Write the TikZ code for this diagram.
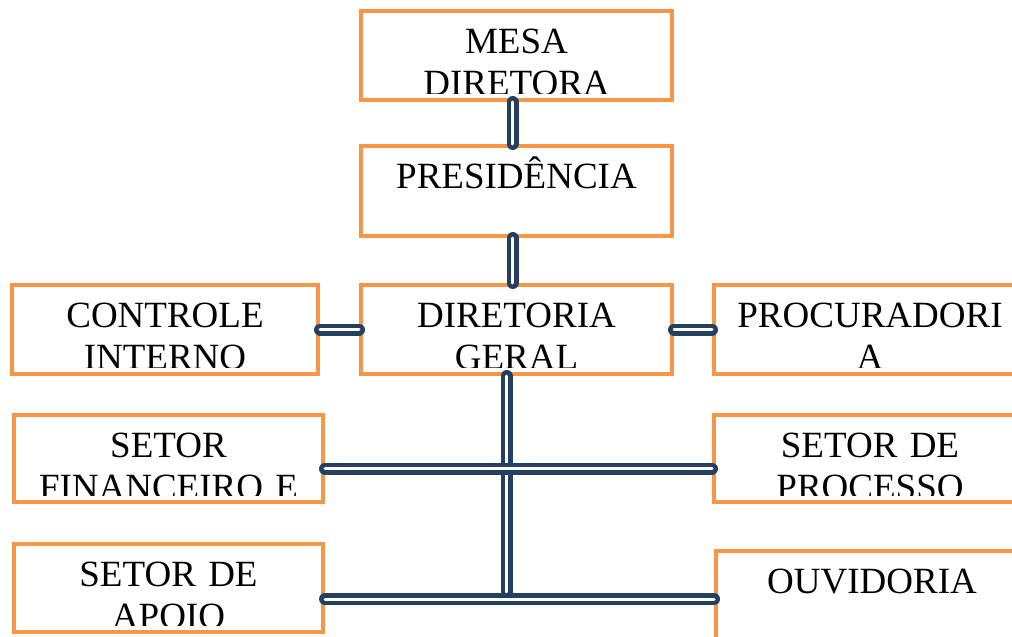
\documentclass[tikz,border=0pt]{standalone}
\usepackage{fontspec}
\setmainfont{Liberation Serif}
\definecolor{boxorange}{HTML}{F79646}
\definecolor{linkblue}{HTML}{243F60}
\tikzset{
  orgbox/.style={draw=boxorange,line width=4pt,anchor=north west,
    minimum width=311pt,minimum height=89pt,inner sep=0pt},
  orgtext/.style={anchor=base,align=center,text width=300pt,inner sep=0pt,
    font=\fontsize{37}{42}\selectfont},
  link/.style={draw=linkblue,line width=4.5pt,double=white,
    double distance=3pt,line cap=round}
}
% text that sits in a box, cut off near its bottom edge
\newcommand\boxtext[2]{%
  \begin{scope}
    \clip ([shift={(2pt,-2pt)}]#1.north west) rectangle ([shift={(-2pt,9pt)}]#1.south east);
    \node[orgtext] (#1-t) at ([yshift=-44pt]#1.north) {#2};
  \end{scope}}
\begin{document}
\begin{tikzpicture}[x=1pt,y=-1pt]
  \useasboundingbox (0,0) rectangle (1012,637);
  \clip (0,0) rectangle (1012,637);
  \fill[white] (0,0) rectangle (1012,637);

  % boxes
  \node[orgbox] (mesa) at (359,9) {};
  \node[orgbox,minimum height=90pt] (pres) at (359,144) {};
  \node[orgbox] (dir) at (359,283) {};
  \node[orgbox,minimum width=306pt] (ctrl) at (10,283) {};
  \node[orgbox,minimum width=312pt] (proc) at (712,283) {};
  \node[orgbox,minimum width=309pt,minimum height=87pt] (fin) at (12,413) {};
  \node[orgbox,minimum width=312pt,minimum height=87pt] (sproc) at (712,413) {};
  \node[orgbox,minimum width=309pt,minimum height=88pt] (apoio) at (12,542) {};
  \node[orgbox,minimum width=312pt,minimum height=91pt] (ouv) at (714,549) {};

  \boxtext{mesa}{MESA\\DIRETORA}
  \boxtext{pres}{PRESIDÊNCIA}
  \boxtext{dir}{DIRETORIA\\GERAL}
  \boxtext{ctrl}{CONTROLE\\INTERNO}
  \boxtext{proc}{PROCURADORI\\A}
  \boxtext{fin}{SETOR\\FINANCEIRO E}
  \boxtext{sproc}{SETOR DE\\PROCESSO}
  \boxtext{apoio}{SETOR DE\\APOIO}
  \boxtext{ouv}{OUVIDORIA}

  % connectors
  \draw[link] ([xshift=-4pt]mesa.south) -- ([xshift=-4pt]pres.north);
  \draw[link] ([xshift=-4pt]pres.south) -- ([xshift=-4pt]dir.north);
  \draw[link] (ctrl.east) -- (dir.west);
  \draw[link] (dir.east) -- (proc.west);
  \coordinate (trunk) at ([xshift=-10pt]dir.south);
  \draw[link] (trunk) -- (trunk |- 0,592);
  \draw[link] ([yshift=-10pt]fin.east) -- ([yshift=-10pt]fin.east -| sproc.west);
  \draw[link] ([yshift=-11pt]apoio.east) -- ([yshift=-11pt]apoio.east -| ouv.west);
\end{tikzpicture}
\end{document}
